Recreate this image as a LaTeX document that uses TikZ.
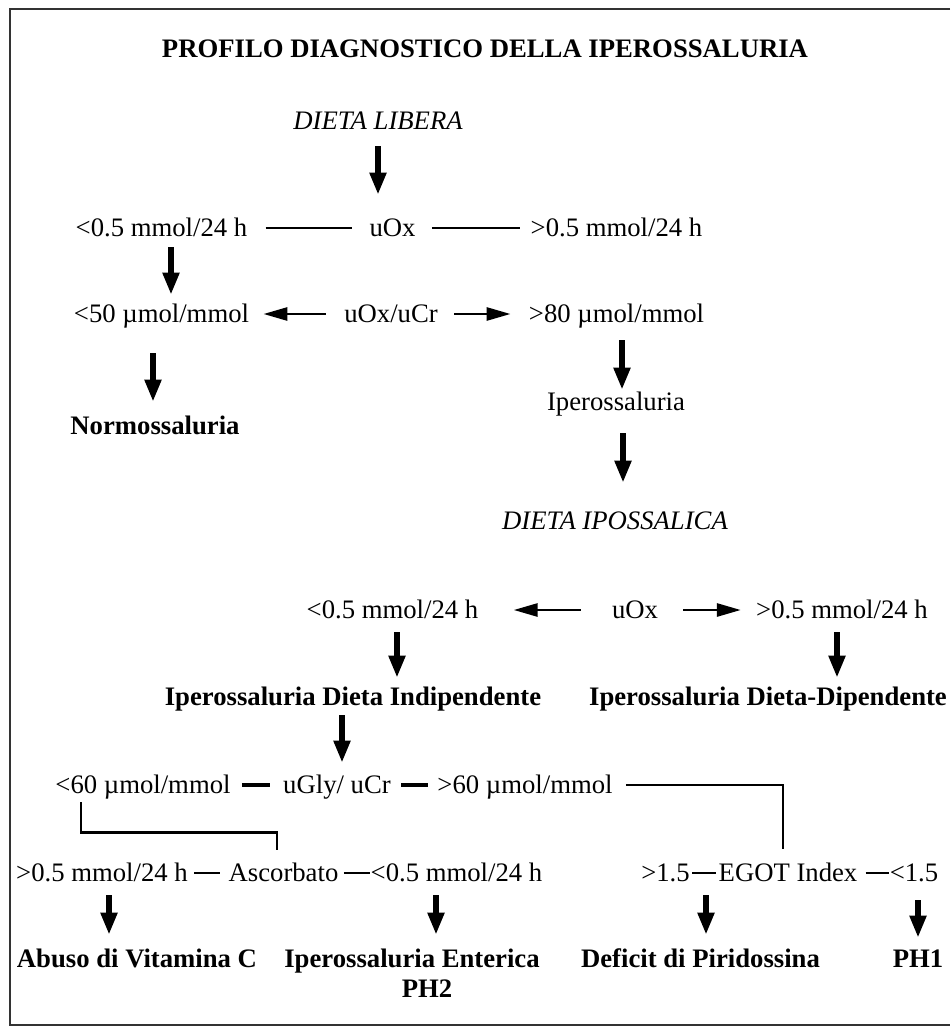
\documentclass[tikz,border=0pt]{standalone}
\usepackage{fontspec}
\setmainfont{Liberation Serif}
\usetikzlibrary{arrows.meta}

\tikzset{
  lbl/.style={inner sep=0pt, anchor=base, text height=9pt, text depth=1pt,
    font=\fontsize{13.35pt}{16pt}\selectfont},
  boldlbl/.style={lbl, font=\fontsize{13.35pt}{16pt}\selectfont\bfseries},
  itallbl/.style={lbl, font=\fontsize{13.35pt}{16pt}\selectfont\itshape},
  downarrow/.style={line width=2.6pt, -{Triangle[length=11pt,width=8pt]}},
  sidearrow/.style={line width=1.4pt, -{Triangle[length=12pt,width=6.5pt]}},
  link/.style={line width=1.3pt},
  dashlink/.style={line width=1.8pt},
  thinlink/.style={line width=0.9pt},
  boxline/.style={line width=1pt, black!80},
}

\begin{document}
\begin{tikzpicture}[x=0.5pt, y=-0.5pt]
\useasboundingbox (0,0) rectangle (950,1027);

            % Frame round the page (open on the right)
            \draw[boxline] (950,9) -- (10,9) -- (10,1025) -- (950,1025);

            % Title
            \node[boldlbl] (title) at (485, 58) {PROFILO DIAGNOSTICO DELLA IPEROSSALURIA};

            % Free diet: uOx
            \node[itallbl] (libera) at (378, 130) {DIETA LIBERA};
            \node[lbl] (lt05a) at (161.5, 236) {<0.5 mmol/24 h};
            \node[lbl] (uoxa) at (392.5, 236) {uOx};
            \node[lbl] (gt05a) at (616.5, 236) {>0.5 mmol/24 h};
            \draw[downarrow, shorten <=7pt, shorten >=11.5pt] (libera.south) -- (libera.south |- uoxa.north);
            \draw[link, shorten <=9pt, shorten >=8.5pt] (lt05a.east) -- (uoxa.west);
            \draw[link, shorten <=8pt, shorten >=5pt] (uoxa.east) -- (gt05a.west);

            % uOx/uCr ratio
            \node[lbl] (lt50) at (161.5, 322) {<50 µmol/mmol};
            \node[lbl] (uoxcr) at (391, 322) {uOx/uCr};
            \node[lbl] (gt80) at (616.5, 322) {>80 µmol/mmol};
            \draw[downarrow, shorten <=4.5pt, shorten >=4.5pt] ([xshift=4.75pt]lt05a.south) -- ([xshift=4.75pt]lt05a.south |- lt50.north);
            \draw[sidearrow, shorten <=9pt, shorten >=7pt] (uoxcr.west) -- (lt50.east);
            \draw[sidearrow, shorten <=8pt, shorten >=9pt] (uoxcr.east) -- (gt80.west);

            % Outcomes of the first step
            \node[boldlbl] (normo) at (155, 434) {Normossaluria};
            \node[lbl] (ipero) at (616, 410) {Iperossaluria};
            \node[itallbl] (ipos) at (615, 529) {DIETA IPOSSALICA};
            \draw[downarrow, shorten <=14.5pt, shorten >=7pt] ([xshift=-4.25pt]lt50.south) -- ([xshift=-4.25pt]lt50.south |- normo.north);
            \draw[downarrow, shorten <=8pt, shorten >=1pt] ([xshift=2.75pt]gt80.south) -- ([xshift=2.75pt]gt80.south |- ipero.north);
            \draw[downarrow, shorten <=10.5pt, shorten >=14pt] ([xshift=3.5pt]ipero.south) -- ([xshift=3.5pt]ipero.south |- ipos.north);

            % Low-oxalate diet: uOx again
            \node[lbl] (lt05b) at (392.5, 618) {<0.5 mmol/24 h};
            \node[lbl] (uoxb) at (635, 618) {uOx};
            \node[lbl] (gt05b) at (842, 618) {>0.5 mmol/24 h};
            \draw[sidearrow, shorten <=15.5pt, shorten >=17.5pt] (uoxb.west) -- (lt05b.east);
            \draw[sidearrow, shorten <=12.5pt, shorten >=7.5pt] (uoxb.east) -- (gt05b.west);

            \node[boldlbl] (indip) at (353, 705) {Iperossaluria Dieta Indipendente};
            \node[boldlbl] (dipend) at (768, 705) {Iperossaluria Dieta-Dipendente};
            \draw[downarrow, shorten <=6pt, shorten >=4.5pt] ([xshift=2.25pt]lt05b.south) -- ([xshift=2.25pt]lt05b.south |- indip.north);
            \draw[downarrow, shorten <=6pt, shorten >=4.5pt] ([xshift=-2.5pt]gt05b.south) -- ([xshift=-2.5pt]gt05b.south |- dipend.north);

            % uGly/uCr ratio
            \node[lbl] (lt60) at (143, 793) {<60 µmol/mmol};
            \node[lbl] (ugly) at (337, 793) {uGly/ uCr};
            \node[lbl] (gt60) at (525, 793) {>60 µmol/mmol};
            \draw[downarrow, shorten <=4pt, shorten >=6pt] ([xshift=-5.5pt]indip.south) -- ([xshift=-5.5pt]indip.south |- ugly.north);
            \draw[dashlink, shorten <=5.5pt, shorten >=6.5pt] (lt60.east) -- (ugly.west);
            \draw[dashlink, shorten <=5pt, shorten >=4.5pt] (ugly.east) -- (gt60.west);

            % Ascorbate and EGOT index
            \node[lbl] (gt05c) at (102, 881) {>0.5 mmol/24 h};
            \node[lbl] (ascorb) at (283.5, 881) {Ascorbato};
            \node[lbl] (lt05c) at (456.5, 881) {<0.5 mmol/24 h};
            \node[lbl] (gt15) at (665.5, 881) {>1.5};
            \node[lbl] (egot) at (788, 881) {EGOT Index};
            \node[lbl] (lt15) at (914, 881) {<1.5};
            \draw[thinlink, shorten <=3pt, shorten >=4pt] (gt05c.east) -- (ascorb.west);
            \draw[thinlink, shorten <=2.5pt] (ascorb.east) -- (lt05c.west);
            \draw[thinlink, shorten <=1pt, shorten >=1pt] (gt15.east) -- (egot.west);
            \draw[thinlink, shorten <=4pt] (egot.east) -- (lt15.west);
            \draw[link] ([xshift=-31pt,yshift=-3.5pt]lt60.south) -- ++(0,30) -| ([xshift=-3.25pt,yshift=6.5pt]ascorb.north);
            \draw[link] ([xshift=6.5pt]gt60.east) -| ([xshift=-2.5pt,yshift=7pt]egot.north);

            % Final diagnoses
            \node[boldlbl] (abuso) at (137, 967) {Abuso di Vitamina C};
            \node[boldlbl] (enter) at (412, 967) {Iperossaluria Enterica};
            \node[boldlbl] (ph2) at (427, 997) {PH2};
            \node[boldlbl] (pirid) at (700.5, 967) {Deficit di Piridossina};
            \node[boldlbl] (ph1) at (918, 967) {PH1};
            \draw[downarrow, shorten <=6pt, shorten >=7pt] ([xshift=3.5pt]gt05c.south) -- ([xshift=3.5pt]gt05c.south |- abuso.north);
            \draw[downarrow, shorten <=6pt, shorten >=7pt] ([xshift=-10.25pt]lt05c.south) -- ([xshift=-10.25pt]lt05c.south |- enter.north);
            \draw[downarrow, shorten <=6pt, shorten >=7pt] ([xshift=20.25pt]gt15.south) -- ([xshift=20.25pt]gt15.south |- pirid.north);
            \draw[downarrow, shorten <=8.5pt, shorten >=5.5pt] ([xshift=2pt]lt15.south) -- ([xshift=2pt]lt15.south |- ph1.north);
\end{tikzpicture}
\end{document}
